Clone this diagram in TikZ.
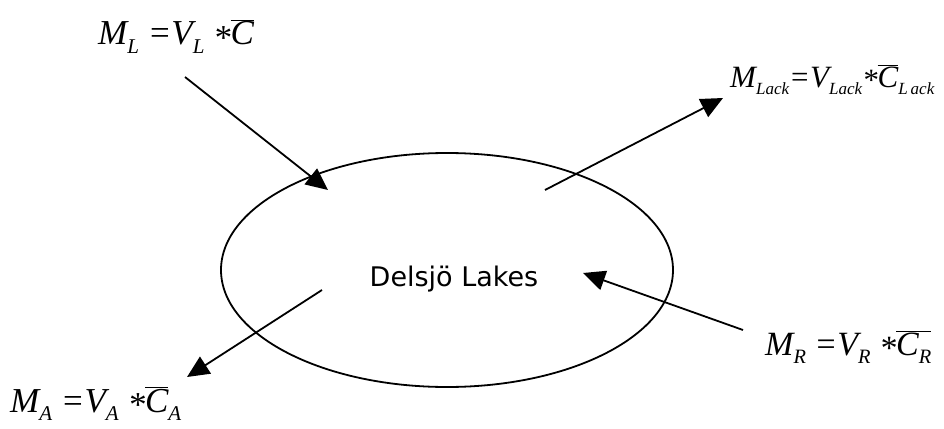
\documentclass[tikz,border=0pt]{standalone}
\usepackage{fontspec}
\usetikzlibrary{arrows.meta,shapes.geometric}
\newfontfamily\tnr{Liberation Serif}
\newfontfamily\lakefont{DejaVu Sans}
\newcommand\eqsub[2][0.6]{\raisebox{-0.25em}{\scalebox{#1}{#2}}}
\newcommand\eqast{\raisebox{-0.12em}{*}}
\newcommand\barC[1]{$\overline{\hbox{#1}}$}
\tikzset{
  flow/.style={line width=1.8pt,-{Triangle[length=22pt,width=20pt]}},
  eqn/.style={anchor=base west,inner sep=0pt,font=\tnr\itshape},
}
\begin{document}
\begin{tikzpicture}[x=1pt,y=-1pt]
\useasboundingbox[fill=white] (0,0) rectangle (944,428);
\node[ellipse,draw,line width=1.8pt,minimum width=452pt,minimum height=234pt,inner sep=0pt] (lake) at (447,270) {};
\node[font=\lakefont\fontsize{27}{30}\selectfont,anchor=base,inner sep=0pt] (lbl) at (454,286) {Delsjö Lakes};
\node[eqn,font=\tnr\itshape\fontsize{35}{40}\selectfont] (ml) at (98,45) {M\eqsub{L} =V\eqsub{L} \eqast\barC{C}};
\node[eqn,font=\tnr\itshape\fontsize{31}{36}\selectfont] (mlack) at (730,87) {M\eqsub[0.55]{Lack}=V\eqsub[0.55]{Lack}\eqast\barC{C}\eqsub[0.55]{L\,ack}};
\node[eqn,font=\tnr\itshape\fontsize{35}{40}\selectfont] (ma) at (10,412) {M\eqsub{A} =V\eqsub{A} \eqast\barC{C}\eqsub{A}};
\node[eqn,font=\tnr\itshape\fontsize{34}{38}\selectfont] (mr) at (765,355) {M\eqsub{R} =V\eqsub{R} \eqast\barC{C\eqsub{R}}};
\coordinate (l0) at (185,77);
\coordinate (l1) at (328,190);
\coordinate (k0) at (545,190);
\coordinate (k1) at (723,98);
\coordinate (r0) at (743,330);
\coordinate (r1) at (583,273);
\coordinate (a0) at (322,290);
\coordinate (a1) at (187,377);
\draw[flow] (l0) -- (l1);
\draw[flow] (k0) -- (k1);
\draw[flow] (r0) -- (r1);
\draw[flow] (a0) -- (a1);
\end{tikzpicture}
\end{document}
